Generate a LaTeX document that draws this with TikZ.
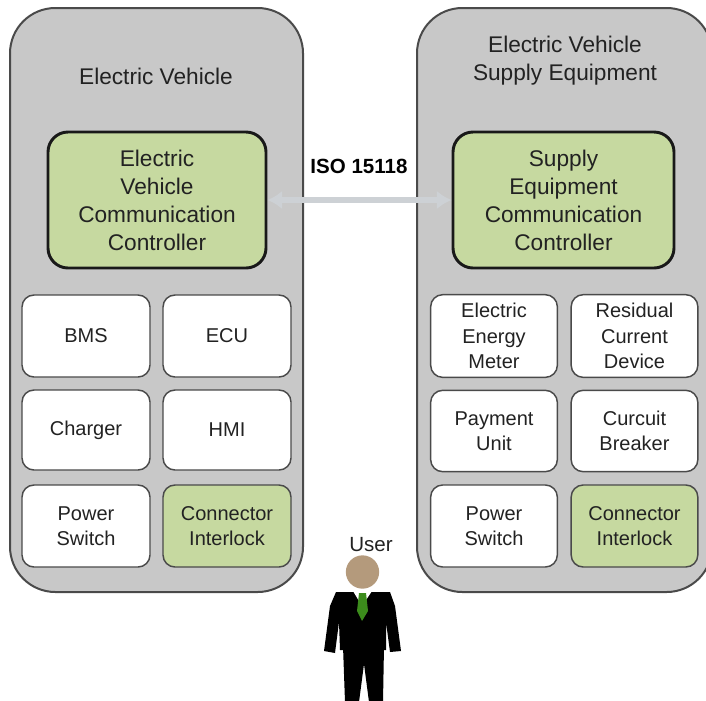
\documentclass[tikz,border=0pt]{standalone}
\usepackage{fontspec}
\setmainfont{Liberation Sans}
\usetikzlibrary{arrows.meta}
\definecolor{panelgray}{HTML}{C8C8C8}
\definecolor{panelline}{HTML}{4A4A4A}
\definecolor{ctrlgreen}{HTML}{C6D9A0}
\definecolor{txt}{HTML}{222222}
\definecolor{linkgray}{HTML}{CDD1D5}
\definecolor{skin}{HTML}{B49A7C}
\definecolor{tiegreen}{HTML}{3C8C1C}
\tikzset{
  panel/.style={draw=panelline, line width=1.5pt, fill=panelgray, rounded corners=34pt,
    minimum width=#1, minimum height=438pt, inner sep=0pt},
  ctrl/.style={draw=black!90, line width=2.2pt, fill=ctrlgreen, rounded corners=15pt,
    minimum height=102pt, minimum width=#1, align=center, text=txt,
    font=\fontsize{17}{21}\selectfont, inner sep=0pt},
  unit/.style={draw=panelline, line width=1.1pt, fill=white, rounded corners=9pt,
    minimum height=#1, align=center, text=txt,
    font=\fontsize{15}{19}\selectfont, inner sep=0pt},
  lunit/.style={unit=#1, minimum width=96pt},
  runit/.style={unit=#1, minimum width=95pt},
  title/.style={align=center, text=txt, font=\fontsize{17}{21}\selectfont},
  link/.style={draw=linkgray, line width=4pt,
    {Latex[length=11pt,width=14pt]}-{Latex[length=11pt,width=14pt]}},
}
\begin{document}
\begin{tikzpicture}[x=0.75pt,y=-0.75pt]
\useasboundingbox (0,0) rectangle (706,700);

% outer panels
\node[panel=219.75pt] (ev) at (156.5,300) {};
\node[panel=221.25pt] (evse) at (564.5,300) {};

% panel titles
\node[title] (evt) at (156,76) {Electric Vehicle};
\node[title] (evset) at (565,61) {Electric Vehicle\\Supply Equipment};

% communication controllers
\node[ctrl=163.5pt] (evcc) at (157,200) {Electric\\Vehicle\\Communication\\Controller};
\node[ctrl=165.75pt] (secc) at (563.5,200) {Supply\\Equipment\\Communication\\Controller};

% ISO 15118 link
\draw[link] (evcc.east) -- (secc.west);
\node[text=black, font=\fontsize{15.4}{18}\selectfont\bfseries] (iso) at (359,166) {ISO 15118};

% vehicle components
\node[lunit=61.5pt] (bms) at (86,336) {BMS};
\node[lunit=61.5pt] (ecu) at (227,336) {ECU};
\node[lunit=60pt] (chg) at (86,430) {Charger};
\node[lunit=60pt] (hmi) at (227,430) {HMI};
\node[lunit=61.5pt] (evps) at (86,526) {Power\\Switch};
\node[lunit=61.5pt, fill=ctrlgreen] (evci) at (227,526) {Connector\\Interlock};

% supply equipment components
\node[runit=62pt] (meter) at (494,336) {Electric\\Energy\\Meter};
\node[runit=62pt] (rcd) at (634.5,336) {Residual\\Current\\Device};
\node[runit=61pt] (pay) at (494,431) {Payment\\Unit};
\node[runit=61pt] (cb) at (634.5,431) {Curcuit\\Breaker};
\node[runit=61.5pt] (seps) at (494,526) {Power\\Switch};
\node[runit=61.5pt, fill=ctrlgreen] (seci) at (634.5,526) {Connector\\Interlock};

% user figure
\node[text=txt, font=\fontsize{15.4}{18}\selectfont] (user) at (371,545) {User};
\fill[black] (336,592) -- (390,592) -- (395,606) -- (401,651) -- (390,652)
  -- (386,622) -- (386,650) -- (340,650) -- (339,622) -- (335,653) -- (324,651)
  -- (330,606) -- cycle;
\fill[black] (343,646) -- (384,646) -- (383,702) -- (369,702) -- (364,664)
  -- (359,702) -- (345,702) -- cycle;
\fill[white] (353,591) -- (372,591) -- (362,606) -- cycle;
\fill[tiegreen] (359,593) -- (366,593) -- (368,611) -- (362,621) -- (357,611) -- cycle;
\fill[skin] (362.5,572) circle[radius=12.5pt];
\end{tikzpicture}
\end{document}
